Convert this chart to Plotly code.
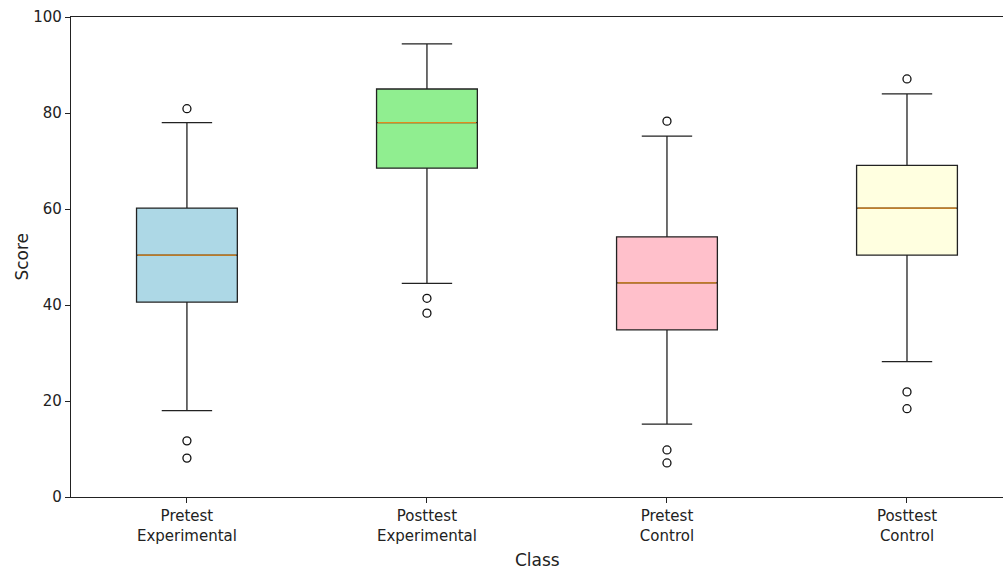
import plotly.graph_objects as go

categories = ["Pretest<br>Experimental", "Posttest<br>Experimental", "Pretest<br>Control", "Posttest<br>Control"]
colors = ["#ADD8E6", "#90EE90", "#FFC0CB", "#FFFFE0"]
q1 = [40.6, 68.5, 34.8, 50.4]
median = [50.4, 78.0, 44.6, 60.2]
q3 = [60.2, 85.0, 54.2, 69.1]
lower_whisker = [18.0, 44.5, 15.2, 28.2]
upper_whisker = [78.0, 94.4, 75.2, 84.0]
outliers = [[80.9, 11.7, 8.1], [41.4, 38.3], [78.3, 9.8, 7.1], [87.1, 21.9, 18.4]]

BOX_W = 0.42
FONT = "DejaVu Sans"

fig = go.Figure()
for i, cat in enumerate(categories):
    fig.add_trace(go.Box(
        x=[i], q1=[q1[i]], median=[median[i]], q3=[q3[i]],
        lowerfence=[lower_whisker[i]], upperfence=[upper_whisker[i]],
        width=BOX_W, whiskerwidth=0.5,
        fillcolor=colors[i], line=dict(color="#222222", width=1.3),
        boxpoints=False, hoverinfo="skip", showlegend=False,
    ))
    fig.add_trace(go.Scatter(
        x=[i - BOX_W / 2 + 0.005, i + BOX_W / 2 - 0.005], y=[median[i], median[i]],
        mode="lines", line=dict(color="#E08A1E", width=1.3),
        showlegend=False, hoverinfo="skip",
    ))
    fig.add_trace(go.Scatter(
        x=[i] * len(outliers[i]), y=outliers[i], mode="markers",
        marker=dict(symbol="circle-open", size=8, color="#111111", line=dict(width=1.3)),
        showlegend=False, hoverinfo="skip",
    ))

fig.update_layout(
    width=1003, height=571,
    margin=dict(l=71, r=0, t=17, b=74, autoexpand=False),
    plot_bgcolor="white", paper_bgcolor="white",
    font=dict(family=FONT, size=15, color="#222222"),
    showlegend=False,
    annotations=[
        dict(text="Class", xref="paper", yref="paper", x=0.5, y=-0.132,
             xanchor="center", yanchor="middle", showarrow=False, font=dict(size=17)),
        dict(text="Score", xref="paper", yref="paper", x=-0.053, y=0.5,
             xanchor="center", yanchor="middle", textangle=-90, showarrow=False, font=dict(size=17)),
    ],
)
fig.update_xaxes(
    range=[-0.483, 3.4], tickmode="array", tickvals=list(range(len(categories))),
    ticktext=categories, showline=True, linecolor="#222222", linewidth=1.3,
    mirror=True, ticks="outside", ticklen=5, tickcolor="#222222",
    showgrid=False, zeroline=False, automargin=False,
    tickfont=dict(size=15),
)
fig.update_yaxes(
    range=[0, 100], tickvals=[0, 20, 40, 60, 80, 100],
    showline=True, linecolor="#222222", linewidth=1.3,
    ticks="outside", ticklen=5, tickcolor="#222222",
    showgrid=False, zeroline=False, automargin=False,
    tickfont=dict(size=15),
)

fig.write_html("out.html", config={"displayModeBar": False},
               post_script="document.body.style.margin='0';document.body.style.overflow='hidden';")
